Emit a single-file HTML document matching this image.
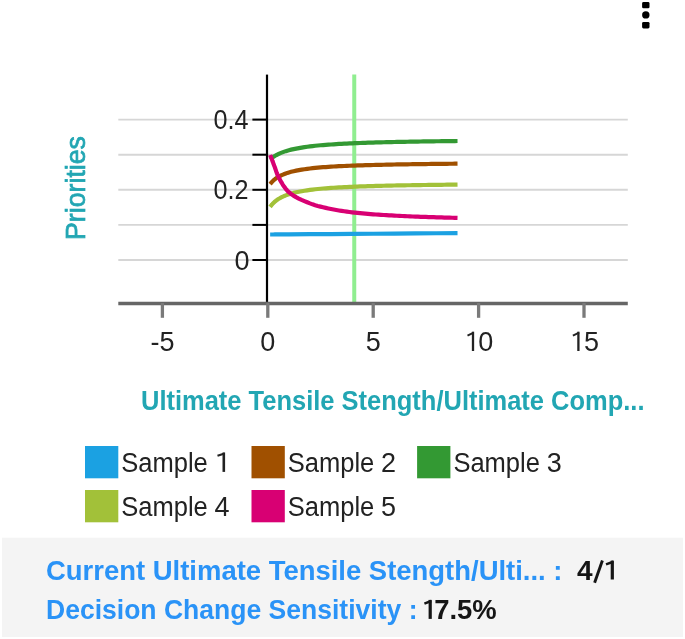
<!DOCTYPE html>
<html><head><meta charset="utf-8"><style>
html,body{margin:0;padding:0;background:#fff;}
body{width:685px;height:639px;overflow:hidden;position:relative;font-family:"Liberation Sans", sans-serif;}
svg{position:absolute;left:0;top:0;filter:blur(0.6px);}
</style></head><body>
<svg width="685" height="639" viewBox="0 0 685 639" font-family='"Liberation Sans", sans-serif'>
<rect x="2" y="537.7" width="681" height="99.3" fill="#f4f4f4"/>
<rect x="642.1" y="2.1" width="7.4" height="6.2" rx="1.4" fill="#000"/>
<circle cx="645.8" cy="14.9" r="3.7" fill="#000"/>
<rect x="642.1" y="21.9" width="7.4" height="6.5" rx="1.4" fill="#000"/>
<line x1="118.3" y1="119.6" x2="627.8" y2="119.6" stroke="#d6d6d6" stroke-width="1.9"/>
<line x1="118.3" y1="154.7" x2="627.8" y2="154.7" stroke="#d6d6d6" stroke-width="1.9"/>
<line x1="118.3" y1="189.8" x2="627.8" y2="189.8" stroke="#d6d6d6" stroke-width="1.9"/>
<line x1="118.3" y1="224.9" x2="627.8" y2="224.9" stroke="#d6d6d6" stroke-width="1.9"/>
<line x1="118.3" y1="260.0" x2="627.8" y2="260.0" stroke="#d6d6d6" stroke-width="1.9"/>
<line x1="354.25" y1="74.5" x2="354.25" y2="302" stroke="#90EE90" stroke-width="4"/>
<line x1="267" y1="74.6" x2="267" y2="303.8" stroke="#000" stroke-width="2.2"/>
<line x1="252.4" y1="119.6" x2="267" y2="119.6" stroke="#000" stroke-width="2"/>
<line x1="252.4" y1="154.7" x2="267" y2="154.7" stroke="#000" stroke-width="2"/>
<line x1="252.4" y1="189.8" x2="267" y2="189.8" stroke="#000" stroke-width="2"/>
<line x1="252.4" y1="224.9" x2="267" y2="224.9" stroke="#000" stroke-width="2"/>
<line x1="252.4" y1="260.0" x2="267" y2="260.0" stroke="#000" stroke-width="2"/>
<line x1="118.3" y1="303.5" x2="627.8" y2="303.5" stroke="#666" stroke-width="3.3"/>
<line x1="162.4" y1="303" x2="162.4" y2="317.8" stroke="#7a7a7a" stroke-width="3.3"/>
<line x1="267.8" y1="303" x2="267.8" y2="317.8" stroke="#7a7a7a" stroke-width="3.3"/>
<line x1="373.2" y1="303" x2="373.2" y2="317.8" stroke="#7a7a7a" stroke-width="3.3"/>
<line x1="478.6" y1="303" x2="478.6" y2="317.8" stroke="#7a7a7a" stroke-width="3.3"/>
<line x1="584.0" y1="303" x2="584.0" y2="317.8" stroke="#7a7a7a" stroke-width="3.3"/>
<polyline points="270.14,234.50 270.44,234.50 270.81,234.50 271.31,234.49 272.02,234.49 273.07,234.48 274.83,234.47 278.34,234.44 288.88,234.36 309.96,234.20 331.04,234.04 352.12,233.89 373.20,233.73 394.28,233.57 415.36,233.41 436.44,233.26 457.52,233.10" fill="none" stroke="#1BA1E2" stroke-width="4.2" stroke-linejoin="round"/>
<polyline points="270.14,184.13 270.18,184.08 270.21,184.04 270.25,183.99 270.29,183.94 270.32,183.90 270.36,183.85 270.40,183.80 270.44,183.75 270.48,183.69 270.52,183.64 270.57,183.58 270.62,183.52 270.66,183.46 270.71,183.40 270.76,183.34 270.81,183.28 270.87,183.21 270.93,183.14 270.99,183.06 271.05,182.99 271.11,182.91 271.18,182.84 271.25,182.76 271.31,182.68 271.39,182.59 271.48,182.50 271.56,182.40 271.65,182.30 271.73,182.21 271.83,182.11 271.92,182.00 272.02,181.90 272.13,181.77 272.26,181.65 272.38,181.52 272.51,181.38 272.64,181.25 272.78,181.11 272.92,180.97 273.07,180.83 273.26,180.65 273.46,180.47 273.66,180.28 273.87,180.09 274.09,179.89 274.33,179.69 274.57,179.49 274.83,179.28 275.19,179.00 275.56,178.70 275.95,178.40 276.36,178.10 276.80,177.79 277.27,177.47 277.79,177.15 278.34,176.84 279.34,176.30 280.46,175.73 281.68,175.15 282.98,174.57 284.37,173.99 285.82,173.43 287.33,172.89 288.88,172.40 291.15,171.77 293.61,171.19 296.22,170.65 298.93,170.15 301.71,169.68 304.50,169.25 307.27,168.85 309.96,168.48 312.59,168.15 315.22,167.86 317.85,167.62 320.49,167.40 323.13,167.21 325.76,167.03 328.40,166.86 331.04,166.68 333.67,166.51 336.31,166.36 338.94,166.22 341.58,166.10 344.21,165.98 346.85,165.87 349.48,165.76 352.12,165.65 354.75,165.55 357.39,165.46 360.02,165.37 362.66,165.28 365.29,165.21 367.93,165.13 370.56,165.06 373.20,164.99 375.83,164.92 378.47,164.85 381.10,164.79 383.74,164.73 386.37,164.68 389.01,164.62 391.64,164.57 394.28,164.52 396.91,164.47 399.55,164.42 402.18,164.38 404.82,164.33 407.45,164.29 410.09,164.25 412.72,164.21 415.36,164.17 417.99,164.14 420.63,164.10 423.26,164.06 425.90,164.03 428.53,164.00 431.17,163.97 433.80,163.94 436.44,163.91 439.07,163.88 441.71,163.85 444.34,163.82 446.98,163.80 449.61,163.77 452.25,163.75 454.88,163.72 457.52,163.69" fill="none" stroke="#A05000" stroke-width="4.2" stroke-linejoin="round"/>
<polyline points="270.14,159.37 270.18,159.34 270.21,159.31 270.25,159.28 270.29,159.25 270.32,159.22 270.36,159.19 270.40,159.15 270.44,159.12 270.48,159.08 270.52,159.04 270.57,159.01 270.62,158.97 270.66,158.93 270.71,158.89 270.76,158.85 270.81,158.80 270.87,158.76 270.93,158.71 270.99,158.66 271.05,158.61 271.12,158.55 271.18,158.50 271.25,158.45 271.31,158.40 271.39,158.33 271.48,158.27 271.56,158.20 271.65,158.13 271.74,158.07 271.83,158.00 271.92,157.93 272.02,157.85 272.14,157.76 272.26,157.67 272.38,157.58 272.51,157.49 272.64,157.39 272.78,157.29 272.92,157.19 273.07,157.09 273.26,156.96 273.46,156.82 273.67,156.69 273.88,156.55 274.10,156.40 274.33,156.25 274.57,156.10 274.83,155.95 275.19,155.73 275.57,155.51 275.96,155.28 276.37,155.04 276.81,154.80 277.29,154.55 277.79,154.30 278.34,154.04 279.35,153.60 280.47,153.12 281.69,152.63 283.00,152.13 284.38,151.63 285.83,151.13 287.33,150.66 288.88,150.22 291.15,149.65 293.62,149.10 296.23,148.58 298.94,148.08 301.71,147.61 304.50,147.18 307.27,146.77 309.96,146.39 312.59,146.06 315.22,145.76 317.85,145.50 320.49,145.27 323.13,145.05 325.77,144.85 328.40,144.66 331.04,144.47 333.67,144.29 336.31,144.12 338.94,143.97 341.58,143.82 344.21,143.69 346.85,143.56 349.48,143.44 352.12,143.32 354.75,143.20 357.39,143.09 360.02,142.99 362.66,142.90 365.29,142.80 367.93,142.72 370.56,142.63 373.20,142.55 375.83,142.47 378.47,142.39 381.10,142.32 383.74,142.25 386.37,142.19 389.01,142.12 391.64,142.06 394.28,142.00 396.91,141.94 399.55,141.88 402.18,141.83 404.82,141.78 407.45,141.73 410.09,141.68 412.72,141.63 415.36,141.59 417.99,141.54 420.63,141.50 423.26,141.46 425.90,141.42 428.53,141.38 431.17,141.34 433.80,141.30 436.44,141.27 439.07,141.23 441.71,141.20 444.34,141.16 446.98,141.13 449.61,141.10 452.25,141.07 454.88,141.04 457.52,141.01" fill="none" stroke="#339933" stroke-width="4.2" stroke-linejoin="round"/>
<polyline points="270.14,206.86 270.18,206.81 270.21,206.76 270.25,206.71 270.29,206.66 270.32,206.61 270.36,206.56 270.40,206.51 270.44,206.46 270.48,206.40 270.52,206.34 270.57,206.28 270.62,206.22 270.66,206.15 270.71,206.09 270.76,206.02 270.81,205.96 270.87,205.88 270.93,205.81 270.99,205.73 271.05,205.65 271.11,205.57 271.18,205.49 271.25,205.41 271.31,205.32 271.39,205.22 271.48,205.12 271.56,205.02 271.65,204.92 271.73,204.82 271.83,204.71 271.92,204.60 272.02,204.49 272.13,204.36 272.26,204.22 272.38,204.08 272.51,203.94 272.64,203.80 272.78,203.65 272.92,203.50 273.07,203.35 273.26,203.15 273.46,202.96 273.66,202.76 273.87,202.55 274.09,202.34 274.33,202.13 274.57,201.91 274.83,201.69 275.19,201.38 275.56,201.07 275.95,200.74 276.36,200.41 276.80,200.08 277.27,199.74 277.78,199.40 278.34,199.05 279.34,198.47 280.46,197.86 281.67,197.23 282.98,196.60 284.36,195.96 285.81,195.35 287.32,194.77 288.88,194.23 291.14,193.55 293.60,192.91 296.21,192.32 298.92,191.77 301.70,191.25 304.50,190.77 307.26,190.33 309.96,189.92 312.59,189.56 315.22,189.24 317.85,188.97 320.49,188.73 323.13,188.52 325.76,188.32 328.40,188.13 331.04,187.93 333.67,187.75 336.31,187.58 338.94,187.42 341.58,187.28 344.21,187.15 346.85,187.03 349.48,186.91 352.12,186.79 354.75,186.68 357.39,186.57 360.02,186.47 362.66,186.38 365.29,186.29 367.93,186.21 370.56,186.13 373.20,186.05 375.83,185.97 378.47,185.90 381.10,185.83 383.74,185.76 386.37,185.70 389.01,185.64 391.64,185.58 394.28,185.52 396.91,185.47 399.55,185.42 402.18,185.37 404.82,185.32 407.45,185.27 410.09,185.23 412.72,185.18 415.36,185.14 417.99,185.10 420.63,185.06 423.26,185.02 425.90,184.98 428.53,184.94 431.17,184.91 433.80,184.87 436.44,184.84 439.07,184.81 441.71,184.78 444.34,184.75 446.98,184.72 449.61,184.69 452.25,184.66 454.88,184.63 457.52,184.60" fill="none" stroke="#A2C139" stroke-width="4.2" stroke-linejoin="round"/>
<polyline points="270.14,155.00 270.18,155.10 270.21,155.20 270.25,155.30 270.29,155.40 270.32,155.50 270.36,155.60 270.40,155.70 270.44,155.80 270.48,155.91 270.52,156.02 270.57,156.13 270.62,156.24 270.66,156.35 270.71,156.46 270.76,156.58 270.81,156.70 270.87,156.85 270.93,157.00 270.99,157.16 271.05,157.32 271.12,157.49 271.18,157.65 271.25,157.83 271.31,158.00 271.39,158.21 271.48,158.42 271.56,158.64 271.65,158.86 271.74,159.08 271.83,159.31 271.92,159.55 272.02,159.80 272.14,160.12 272.26,160.44 272.39,160.77 272.51,161.12 272.65,161.47 272.78,161.83 272.92,162.21 273.07,162.60 273.26,163.12 273.46,163.65 273.67,164.20 273.88,164.78 274.10,165.37 274.33,165.99 274.57,166.63 274.83,167.30 275.18,168.30 275.54,169.36 275.90,170.48 276.29,171.65 276.71,172.85 277.19,174.08 277.73,175.33 278.34,176.60 279.29,178.43 280.33,180.40 281.47,182.45 282.72,184.53 284.07,186.60 285.55,188.60 287.15,190.48 288.88,192.20 291.04,193.96 293.44,195.60 296.03,197.13 298.75,198.56 301.55,199.90 304.39,201.14 307.21,202.31 309.96,203.40 312.55,204.35 315.16,205.20 317.79,205.97 320.43,206.65 323.08,207.29 325.73,207.88 328.39,208.44 331.04,209.00 333.66,209.53 336.29,210.01 338.92,210.46 341.56,210.87 344.20,211.26 346.84,211.62 349.48,211.96 352.12,212.30 354.75,212.62 357.38,212.91 360.02,213.17 362.65,213.42 365.29,213.66 367.93,213.88 370.56,214.09 373.20,214.30 375.83,214.50 378.47,214.68 381.10,214.85 383.74,215.01 386.37,215.17 389.01,215.31 391.64,215.46 394.28,215.60 396.91,215.74 399.55,215.88 402.18,216.01 404.82,216.14 407.45,216.26 410.09,216.38 412.72,216.49 415.36,216.60 417.99,216.70 420.63,216.80 423.26,216.89 425.90,216.97 428.53,217.06 431.17,217.14 433.80,217.22 436.44,217.30 439.07,217.38 441.71,217.46 444.34,217.53 446.98,217.61 449.61,217.68 452.25,217.75 454.88,217.83 457.52,217.90" fill="none" stroke="#D80073" stroke-width="4.2" stroke-linejoin="round"/>
<g font-size="27" fill="#222"><text x="248.6" y="128.7" text-anchor="end" textLength="35" lengthAdjust="spacingAndGlyphs">0.4</text><text x="248.6" y="199" text-anchor="end" textLength="35" lengthAdjust="spacingAndGlyphs">0.2</text><text x="249.5" y="269.5" text-anchor="end">0</text></g>
<g font-size="27" fill="#222" text-anchor="middle"><text x="162.6" y="351.1">-5</text><text x="267.8" y="351.1">0</text><text x="373.3" y="351.1">5</text><text x="485.7" y="351.1">0</text><text x="591.5" y="351.1">5</text></g>
<line x1="473.0" y1="331.7" x2="473.0" y2="351.0" stroke="#222" stroke-width="2.3"/><line x1="473.69" y1="332.60" x2="467.5" y2="335.6" stroke="#222" stroke-width="2.0" stroke-linecap="butt"/>
<line x1="578.4" y1="331.7" x2="578.4" y2="351.0" stroke="#222" stroke-width="2.3"/><line x1="579.09" y1="332.60" x2="572.9" y2="335.6" stroke="#222" stroke-width="2.0" stroke-linecap="butt"/>
<text x="76" y="188" transform="rotate(-90 76 188)" font-size="27" fill="#22A6B3" stroke="#22A6B3" stroke-width="0.7" text-anchor="middle" dominant-baseline="central" textLength="104" lengthAdjust="spacingAndGlyphs">Priorities</text>
<text x="141" y="410" font-size="28" font-weight="bold" fill="#22A6B3" textLength="503.5" lengthAdjust="spacingAndGlyphs">Ultimate Tensile Stength/Ultimate Comp...</text>
<rect x="85" y="446" width="33.3" height="32.3" fill="#1BA1E2"/>
<text x="121.3" y="471.7" font-size="27" fill="#222" textLength="86.5" lengthAdjust="spacingAndGlyphs">Sample</text>
<line x1="223.8" y1="452.5" x2="223.8" y2="471.9" stroke="#222" stroke-width="2.6"/><line x1="224.58" y1="453.44" x2="217.5" y2="455.7" stroke="#222" stroke-width="2.1" stroke-linecap="butt"/>
<rect x="251.5" y="446" width="33.3" height="32.3" fill="#A05000"/>
<text x="287.8" y="471.7" font-size="27" fill="#222" textLength="86.5" lengthAdjust="spacingAndGlyphs">Sample</text>
<text x="388.6" y="471.7" font-size="27" fill="#222" text-anchor="middle">2</text>
<rect x="417.1" y="446" width="33.3" height="32.3" fill="#339933"/>
<text x="453.40000000000003" y="471.7" font-size="27" fill="#222" textLength="86.5" lengthAdjust="spacingAndGlyphs">Sample</text>
<text x="554.2" y="471.7" font-size="27" fill="#222" text-anchor="middle">3</text>
<rect x="85" y="490" width="33.3" height="32.3" fill="#A2C139"/>
<text x="121.3" y="515.7" font-size="27" fill="#222" textLength="86.5" lengthAdjust="spacingAndGlyphs">Sample</text>
<text x="222.1" y="515.7" font-size="27" fill="#222" text-anchor="middle">4</text>
<rect x="251.5" y="490" width="33.3" height="32.3" fill="#D80073"/>
<text x="287.8" y="515.7" font-size="27" fill="#222" textLength="86.5" lengthAdjust="spacingAndGlyphs">Sample</text>
<text x="388.6" y="515.7" font-size="27" fill="#222" text-anchor="middle">5</text>
<g font-size="28" font-weight="bold"><text x="46" y="579.5" fill="#2A93F7" textLength="516.5" lengthAdjust="spacingAndGlyphs">Current Ultimate Tensile Stength/Ulti... :</text><text x="577" y="579.5" fill="#151515">4</text><text x="46" y="618.8" fill="#2A93F7" textLength="371.5" lengthAdjust="spacingAndGlyphs">Decision Change Sensitivity :</text><text x="434.2" y="618.8" fill="#151515" textLength="62.5" lengthAdjust="spacingAndGlyphs">7.5%</text></g>
<line x1="612.3" y1="560.6" x2="612.3" y2="579.5" stroke="#151515" stroke-width="3.2"/><line x1="613.26" y1="561.77" x2="606.0" y2="564.4" stroke="#151515" stroke-width="2.6" stroke-linecap="butt"/>
<line x1="430.2" y1="599.9" x2="430.2" y2="618.9" stroke="#151515" stroke-width="3.2"/><line x1="431.16" y1="601.07" x2="424.4" y2="603.6" stroke="#151515" stroke-width="2.6" stroke-linecap="butt"/>
<line x1="594.6" y1="582.8" x2="602.4" y2="560.6" stroke="#151515" stroke-width="2.9"/>
</svg>
</body></html>
